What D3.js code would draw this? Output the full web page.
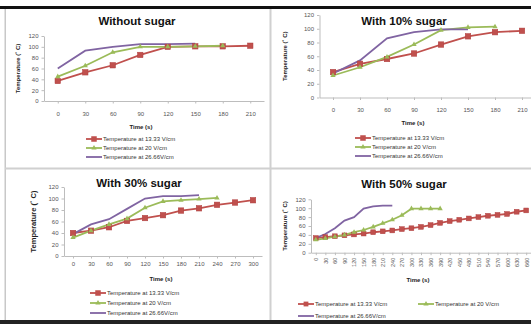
<!DOCTYPE html>
<html>
<head>
<meta charset="utf-8">
<script src="https://cdn.jsdelivr.net/npm/d3@7"></script>
<style>
  body { margin: 0; background: #fff; }
  svg { display: block; font-family: "Liberation Sans", Arial, sans-serif; }
</style>
</head>
<body>
<svg id="chart" width="531" height="324"></svg>
<script>
// séries (°C)
const seriesNames = ['Temperature  at 13.33 V/cm', 'Temperature at 20 V/cm', 'Temperature at 26.66V/cm'];
const yTicks = [0, 20, 40, 60, 80, 100, 120];

const timeNoSugar = [0, 30, 60, 90, 120, 150, 180, 210];
const noSugar1333 = [37, 53, 66, 85, 100, 101, 101, 102];
const noSugar20 = [45, 65, 90, 100, 100, 101, 102];
const noSugar2666 = [60, 93, 100, 105, 105, 106];

const time10 = [0, 30, 60, 90, 120, 150, 180, 210];
const sugar10_1333 = [37, 49, 56, 64, 77, 89, 95, 97];
const sugar10_20 = [32, 44, 59, 77, 98, 102, 103];
const sugar10_2666 = [35, 54, 86, 95, 99, 99];

const time30 = [0, 30, 60, 90, 120, 150, 180, 210, 240, 270, 300];
const sugar30_1333 = [40, 44, 50, 61, 66, 71, 79, 83, 89, 93, 97];
const sugar30_20 = [32, 44, 55, 65, 84, 95, 97, 99, 101];
const sugar30_2666 = [38, 55, 64, 82, 100, 104, 104, 106];

const time50 = [0, 30, 60, 90, 120, 150, 180, 210, 240, 270, 300, 330, 360, 390, 420, 450, 480, 510, 540, 570, 600, 630, 660];
const sugar50_1333 = [33, 35, 37, 39, 41, 43, 46, 48, 50, 53, 55, 58, 62, 67, 71, 74, 77, 80, 83, 85, 87, 92, 95];
const sugar50_20 = [29, 32, 36, 40, 46, 51, 58, 66, 74, 84, 99, 99, 99, 99];
const sugar50_2666 = [33, 42, 55, 72, 80, 99, 104, 106, 106];

const colors = ['#c0504d', '#9bbb59', '#8064a2'];

const svg = d3.select('#chart');

// cadres
svg.append('rect').attr('x', 0).attr('y', 6).attr('width', 531).attr('height', 3).attr('fill', '#111');
svg.append('rect').attr('x', 0).attr('y', 320).attr('width', 531).attr('height', 4).attr('fill', '#222');
svg.append('rect').attr('x', 4.5).attr('y', 9).attr('width', 1.5).attr('height', 311).attr('fill', '#c8c8c8');
svg.append('rect').attr('x', 269.5).attr('y', 9).attr('width', 2).attr('height', 311).attr('fill', '#d0d0d0');
svg.append('rect').attr('x', 5).attr('y', 167.5).attr('width', 526).attr('height', 2).attr('fill', '#d0d0d0');

const panels = [
  { title: 'Without sugar', time: timeNoSugar, data: [noSugar1333, noSugar20, noSugar2666],
    x0: 44, x1: 264, yTop: 36, yBot: 101, titleX: 137, titleY: 25, xPad: 8,
    yLabX: 18, yLabSize: 6, timeX: 141, timeY: 129,
    legend: [[86, 139], [86, 148], [86, 157]], sq: 5.5 },
  { title: 'With 10% sugar', time: time10, data: [sugar10_1333, sugar10_20, sugar10_2666],
    x0: 319.5, x1: 535.5, yTop: 15, yBot: 97.5, titleX: 404, titleY: 25, xPad: 8,
    yLabX: 285, yLabSize: 6, timeX: 413, timeY: 125,
    legend: [[355, 138], [355, 147], [355, 156]], sq: 5.5 },
  { title: 'With 30% sugar', time: time30, data: [sugar30_1333, sugar30_20, sugar30_2666],
    x0: 64, x1: 262, yTop: 187, yBot: 256, titleX: 139, titleY: 187, xPad: 3,
    yLabX: 33, yLabSize: 7.5, timeX: 161, timeY: 281,
    legend: [[90, 293], [90, 303], [90, 313]], sq: 5.5 },
  { title: 'With 50% sugar', time: time50, data: [sugar50_1333, sugar50_20, sugar50_2666],
    x0: 311, x1: 531, yTop: 199.3, yBot: 252.7, titleX: 404, titleY: 188, xPad: 3, rotate: true,
    yLabX: 285, yLabSize: 6, timeX: 418, timeY: 282,
    legend: [[298, 304], [418, 304], [298, 316]], sq: 4.8 }
];

panels.forEach((p) => {
  const g = svg.append('g');

  const x = d3.scalePoint().domain(p.time).range([p.x0, p.x1]).padding(0.5);
  const y = d3.scaleLinear().domain([0, 120]).range([p.yBot, p.yTop]);

  // axe Y
  const ya = g.append('g')
    .attr('transform', `translate(${p.x0},0)`)
    .call(d3.axisLeft(y).tickValues(yTicks).tickSize(2.5).tickPadding(3).tickSizeOuter(0));
  ya.select('.domain').attr('stroke', '#bdbdbd');
  ya.selectAll('.tick line').attr('stroke', '#bdbdbd');
  ya.selectAll('text').style('font-size', '6px').attr('fill', '#555');

  // axe X
  const xa = g.append('g')
    .attr('transform', `translate(0,${p.yBot})`)
    .call(d3.axisBottom(x).tickSize(2.5).tickPadding(p.xPad).tickSizeOuter(0));
  xa.select('.domain').attr('stroke', '#bdbdbd');
  xa.selectAll('.tick line').attr('stroke', '#bdbdbd');
  xa.selectAll('text').style('font-size', '6px').attr('fill', '#555');
  if (p.rotate) {
    xa.selectAll('text')
      .attr('transform', 'rotate(-90)')
      .attr('text-anchor', 'end')
      .attr('x', -5)
      .attr('y', 0)
      .attr('dy', '0.35em')
      .style('font-size', '5.5px');
  }

  // titres
  g.append('text')
    .attr('x', p.titleX).attr('y', p.titleY)
    .attr('text-anchor', 'middle')
    .style('font-size', '11.5px').style('font-weight', 'bold').attr('fill', '#111')
    .text(p.title);

  g.append('text')
    .attr('transform', `translate(${p.yLabX},${(p.yTop + p.yBot) / 2}) rotate(-90)`)
    .attr('text-anchor', 'middle')
    .attr('dy', '0.35em')
    .style('font-size', p.yLabSize + 'px').style('font-weight', 'bold').attr('fill', '#222')
    .text('Temperature (˚ C)');

  g.append('text')
    .attr('x', p.timeX).attr('y', p.timeY)
    .attr('text-anchor', 'middle')
    .style('font-size', '6px').style('font-weight', 'bold').attr('fill', '#222')
    .text('Time (s)');

  // courbes
  const line = d3.line().x((d, i) => x(p.time[i])).y((d) => y(d));

  p.data.forEach((vals, k) => {
    g.append('path')
      .datum(vals)
      .attr('fill', 'none')
      .attr('stroke', colors[k])
      .attr('stroke-width', 1.8)
      .attr('d', line);
  });

  // marqueurs carrés (13.33 V/cm)
  g.selectAll('.sq')
    .data(p.data[0])
    .enter()
    .append('rect')
    .attr('x', (d, i) => x(p.time[i]) - p.sq / 2)
    .attr('y', (d) => y(d) - p.sq / 2)
    .attr('width', p.sq)
    .attr('height', p.sq)
    .attr('fill', '#c0504d')
    .attr('stroke', '#b04040')
    .attr('stroke-width', 0.5);

  // marqueurs triangles (20 V/cm)
  const tri = d3.symbol().type(d3.symbolTriangle).size(12);
  g.selectAll('.tri')
    .data(p.data[1])
    .enter()
    .append('path')
    .attr('d', tri)
    .attr('transform', (d, i) => `translate(${x(p.time[i])},${y(d)})`)
    .attr('fill', '#9bbb59');

  // légende
  p.legend.forEach(([lx, ly], k) => {
    g.append('line')
      .attr('x1', lx).attr('x2', lx + 16)
      .attr('y1', ly).attr('y2', ly)
      .attr('stroke', colors[k]).attr('stroke-width', 1.8);
    if (k === 0) {
      g.append('rect')
        .attr('x', lx + 8 - p.sq / 2).attr('y', ly - p.sq / 2)
        .attr('width', p.sq).attr('height', p.sq)
        .attr('fill', '#c0504d');
    } else if (k === 1) {
      g.append('path').attr('d', tri).attr('transform', `translate(${lx + 8},${ly})`).attr('fill', '#9bbb59');
    }
    g.append('text')
      .attr('x', lx + 17).attr('y', ly)
      .attr('dy', '0.35em')
      .style('font-size', '6px').attr('fill', '#333')
      .text(seriesNames[k]);
  });
});
</script>
</body>
</html>
